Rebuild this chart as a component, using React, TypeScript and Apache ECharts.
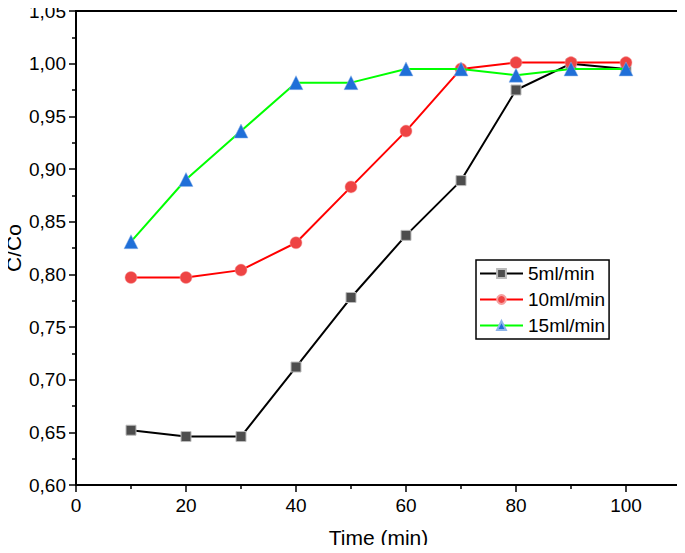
import React, { useEffect, useRef } from "react";
import * as echarts from "echarts";

const times = [10, 20, 30, 40, 50, 60, 70, 80, 90, 100];
const flow5 = [0.652, 0.646, 0.646, 0.712, 0.778, 0.837, 0.889, 0.975, 1.0, 0.995];
const flow10 = [0.797, 0.797, 0.804, 0.83, 0.883, 0.936, 0.995, 1.001, 1.001, 1.001];
const flow15 = [0.831, 0.89, 0.936, 0.982, 0.982, 0.995, 0.995, 0.989, 0.995, 0.995];
const seriesNames = ["5ml/min", "10ml/min", "15ml/min"];

const FONT = "Liberation Sans, Arial, sans-serif";

export default function App() {
  const ref = useRef<HTMLDivElement>(null);
  useEffect(() => {
    if (!ref.current) return;
    const chart = echarts.init(ref.current, null, { renderer: "svg" });
    const pair = (arr: number[]) => times.map((t, i) => [t, arr[i]]);
    chart.setOption({
      animation: false,
      textStyle: { fontFamily: FONT, color: "#000" },
      grid: {
        left: 76,
        right: 4,
        top: 11,
        bottom: 68,
        outerBoundsMode: "none",
        containLabel: false,
        show: true,
        borderColor: "#000",
        borderWidth: 2,
        backgroundColor: "transparent",
      },
      legend: {
        orient: "vertical",
        left: 476,
        top: 260,
        itemWidth: 43,
        itemHeight: 11,
        itemGap: 7,
        padding: [4, 4, 4, 3],
        borderColor: "#000",
        borderWidth: 1.5,
        textStyle: { fontFamily: FONT, fontSize: 19, color: "#000", padding: [0, 0, 0, 0] },
        data: seriesNames,
      },
      xAxis: {
        type: "value",
        min: 0,
        max: 110,
        interval: 20,
        name: "Time (min)",
        nameLocation: "middle",
        nameGap: 42,
        nameMoveOverlap: false,
        nameTextStyle: { fontFamily: FONT, fontSize: 21, color: "#000" },
        axisLine: { show: true, lineStyle: { color: "#000", width: 2 } },
        axisTick: { show: true, length: 7, lineStyle: { color: "#000", width: 1.5 } },
        minorTick: { show: true, splitNumber: 2, length: 4, lineStyle: { color: "#000", width: 1.5 } },
        axisLabel: {
          fontFamily: FONT,
          fontSize: 19,
          color: "#000",
          margin: 11,
          formatter: (v: number) => (v > 100 ? "" : String(v)),
        },
        splitLine: { show: false },
      },
      yAxis: {
        type: "value",
        min: 0.6,
        max: 1.05,
        interval: 0.05,
        name: "C/Co",
        nameLocation: "middle",
        nameGap: 52,
        nameMoveOverlap: false,
        nameTextStyle: { fontFamily: FONT, fontSize: 21, color: "#000" },
        axisLine: { show: true, lineStyle: { color: "#000", width: 2 } },
        axisTick: { show: true, length: 7, lineStyle: { color: "#000", width: 1.5 } },
        minorTick: { show: true, splitNumber: 2, length: 4, lineStyle: { color: "#000", width: 1.5 } },
        axisLabel: {
          fontFamily: FONT,
          fontSize: 19,
          color: "#000",
          margin: 10,
          formatter: (v: number) => v.toFixed(2).replace(".", ","),
        },
        splitLine: { show: false },
      },
      series: [
        {
          name: seriesNames[0],
          type: "line",
          data: pair(flow5),
          symbol: "rect",
          symbolSize: 10,
          lineStyle: { color: "#000", width: 2 },
          itemStyle: { color: "#4d4d4d", borderColor: "#bbbbbb", borderWidth: 1 },
          z: 2,
        },
        {
          name: seriesNames[1],
          type: "line",
          data: pair(flow10),
          symbol: "circle",
          symbolSize: 12,
          lineStyle: { color: "#ff0000", width: 2 },
          itemStyle: { color: "#ee4444", borderColor: "#f7a0a0", borderWidth: 0.5 },
          z: 3,
        },
        {
          name: seriesNames[2],
          type: "line",
          data: pair(flow15),
          symbol: "triangle",
          symbolSize: 14,
          lineStyle: { color: "#00ff00", width: 2 },
          itemStyle: { color: "#1f6fd8", borderColor: "#8fb5ea", borderWidth: 0.5 },
          z: 4,
        },
      ],
    });
    return () => chart.dispose();
  }, []);
  return <div ref={ref} style={{ width: 685, height: 553, margin: -8 }} />;
}
